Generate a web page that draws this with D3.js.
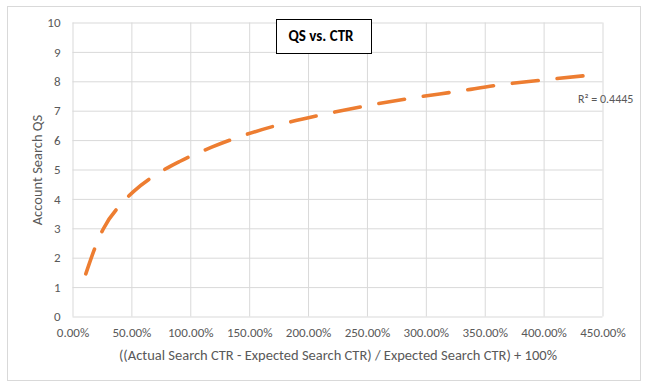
<!DOCTYPE html>
<html>
<head>
  <meta charset="UTF-8">
  <style>
    body { margin: 0; background: white; }
    svg { display: block; }
    .tick text { font-family: Carlito, "Liberation Sans", sans-serif; font-size: 13px; fill: #595959; }
    .grid line { stroke: #d9d9d9; stroke-width: 1; }
    .grid path { display: none; }
    .lbl { font-family: Carlito, "Liberation Sans", sans-serif; font-size: 12px; fill: #595959; }
    .title { font-family: Carlito, "Liberation Sans", sans-serif; font-size: 14.5px; fill: #595959; }
  </style>
</head>
<body>
<svg></svg>
<script src="https://d3js.org/d3.v7.min.js"></script>
<script>

let width = 649, height = 385;

// values
let ctrPct = [11.3, 20.4, 26.0, 41.7, 51.5, 71.9, 91.4, 118.2, 140.8, 176.3, 213, 251.4, 289.6, 327.4, 363.3, 405.8, 445];
let qs     = [1.45, 2.47, 2.97, 3.84, 4.24, 4.85, 5.28, 5.76, 6.10, 6.53, 6.87, 7.18, 7.44, 7.66, 7.88, 8.07, 8.23];
let xTicks = [0, 50, 100, 150, 200, 250, 300, 350, 400, 450];
let yTicks = [0, 1, 2, 3, 4, 5, 6, 7, 8, 9, 10];
let rSquared = "R² = 0.4445";

let svg = d3.select("svg")
    .attr("width", width)
    .attr("height", height);

// chart border
svg.append("rect")
    .attr("x", 7.5).attr("y", 6.5)
    .attr("width", 633).attr("height", 374)
    .attr("fill", "white")
    .attr("stroke", "#d9d9d9");

let x = d3.scaleLinear().domain([0, 450]).range([72.5, 602.5]);
let y = d3.scaleLinear().domain([0, 10]).range([316.5, 22.5]);

// gridlines + tick labels
svg.append("g")
    .attr("class", "grid")
    .attr("transform", "translate(0,316.5)")
    .call(d3.axisBottom(x).tickValues(xTicks).tickSize(-(316.5 - 22.5)).tickPadding(11)
        .tickFormat(d => d.toFixed(2) + "%"));

svg.append("g")
    .attr("class", "grid")
    .attr("transform", "translate(72.5,0)")
    .call(d3.axisLeft(y).tickValues(yTicks).tickSize(-(602.5 - 72.5)).tickPadding(12));

// trend line
let pts = ctrPct.map((d, i) => [d, qs[i]]);
svg.append("path")
    .datum(pts)
    .attr("fill", "none")
    .attr("stroke", "#ed7d31")
    .attr("stroke-width", 3.6)
    .attr("stroke-linecap", "round")
    .attr("stroke-dasharray", "26 19")
    .attr("d", d3.line().x(d => x(d[0])).y(d => y(d[1])).curve(d3.curveMonotoneX));

// R² label
svg.append("text")
    .attr("class", "lbl")
    .attr("x", 578).attr("y", 103)
    .text(rSquared);

// title box
svg.append("rect")
    .attr("x", 276.5).attr("y", 19.5)
    .attr("width", 95).attr("height", 34)
    .attr("fill", "white")
    .attr("stroke", "black");

svg.append("text")
    .attr("x", 321).attr("y", 40.5)
    .attr("text-anchor", "middle")
    .attr("font-family", "Carlito, 'Liberation Sans', sans-serif")
    .attr("font-size", 15)
    .attr("font-weight", "bold")
    .text("QS vs. CTR");

// axis titles
svg.append("text")
    .attr("class", "title")
    .attr("x", 338).attr("y", 360)
    .attr("text-anchor", "middle")
    .text("((Actual Search CTR - Expected Search CTR) / Expected Search CTR) + 100%");

svg.append("text")
    .attr("class", "title")
    .attr("transform", "translate(42,170) rotate(-90)")
    .attr("text-anchor", "middle")
    .text("Account Search QS");

</script>
</body>
</html>
